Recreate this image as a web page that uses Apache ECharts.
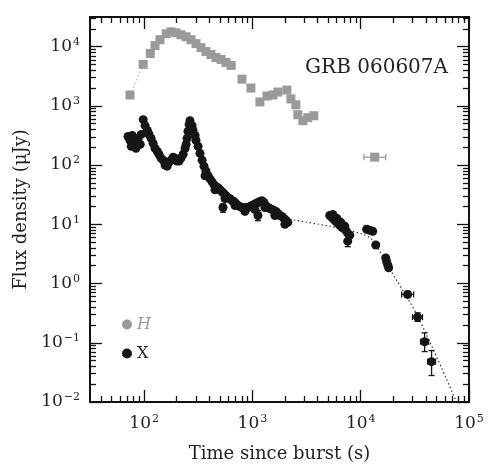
<!DOCTYPE html>
<html><head><meta charset="utf-8">
<script src="https://cdn.jsdelivr.net/npm/echarts@6/dist/echarts.min.js"></script>
<style>html,body{margin:0;padding:0;background:#fff}#c{width:488px;height:468px}</style>
</head><body><div id="c"></div>
<script>
// ---- data (time in s, flux density in microJy) ----
const hTime = [74, 98, 114, 126, 140, 160, 177, 197, 219, 244, 271, 301, 335, 372, 414, 460, 513, 570, 634, 800, 968, 1172, 1360, 1545, 1718, 2080, 2265, 2520, 2625, 2920, 3245, 3690, 13460];
const hFlux = [1525, 5012, 7650, 10400, 13090, 16480, 17780, 17100, 15850, 14680, 13090, 11220, 9620, 8250, 7360, 6560, 6070, 5410, 4820, 2820, 1995, 1166, 1468, 1525, 1710, 1848, 1310, 1040, 708, 562, 631, 681, 136];
const hErrTime = [634, 13460];
const hErrFlux = [4820, 136];
const hErrTimeLo = [590, 10700];
const hErrTimeHi = [690, 17000];
const hRiseTime = [74, 98];
const hRiseFlux = [1525, 5012];

const xTime = [71, 74, 76, 77.5, 81, 84, 88, 92, 94, 98, 102, 107, 111, 116, 121, 126, 132, 137, 143.5, 150, 156, 163, 170, 177, 185, 193, 201, 210, 219, 229, 239, 244, 249, 254, 260, 265, 277, 283, 295, 301, 315, 328, 343, 357, 365, 372, 389, 405, 424, 442, 451, 461, 481, 501, 524, 535, 546, 558, 570, 594, 621, 647, 676, 690, 705, 735, 767, 800, 836, 853, 871, 910, 949, 989, 1033, 1054, 1076, 1125, 1125, 1172, 1225, 1276, 1303, 1330, 1390, 1449, 1514, 1578, 1612, 1648, 1718, 1795, 1871, 1950, 1993, 2037, 2123, 5176, 5404, 5520, 5636, 5888, 6010, 6138, 6412, 6550, 6683, 6966, 7120, 7278, 7586, 7586, 7925, 11350, 12100, 12900, 13770, 17020, 17380, 17740, 18110, 27100, 33500, 38900, 45100];
const xFlux = [304, 261, 207, 316, 233, 192, 282, 224, 329, 585, 464, 383, 329, 282, 233, 192, 171, 152, 131, 121, 100, 96, 112, 121, 136, 131, 117, 117, 131, 152, 192, 224, 282, 369, 482, 562, 464, 383, 316, 261, 207, 158, 121, 96, 66, 79.4, 66, 58.5, 52.1, 46.4, 38.3, 43, 41.4, 38.3, 35.5, 19.2, 32.9, 27.1, 30.4, 28.2, 27.1, 25.1, 24.2, 20.7, 22.4, 20.7, 20.0, 19.2, 18.5, 16.5, 19.2, 19.2, 20.0, 20.7, 21.5, 17.8, 22.4, 23.3, 14.1, 24.2, 25.1, 23.3, 19.2, 20.7, 19.2, 18.5, 17.8, 17.1, 14.1, 16.5, 15.2, 14.1, 13.6, 12.6, 10.0, 11.7, 10.8, 14.1, 13.1, 14.7, 12.1, 11.2, 12.6, 10.4, 9.62, 10.8, 8.91, 8.58, 9.27, 7.94, 7.08, 5.2, 6.56, 8.25, 7.94, 7.64, 4.47, 2.71, 2.33, 2.07, 1.85, 0.656, 0.271, 0.104, 0.048];
const xErrTime = [535, 1125, 7586, 27100, 33500, 38900, 45100];
const xErrFlux = [19.2, 14.1, 5.2, 0.656, 0.271, 0.104, 0.048];
const xErrTimeLo = [535, 1125, 7586, 23900, 30100, 35700, 41500];
const xErrTimeHi = [535, 1125, 7586, 30800, 37200, 42400, 49100];
const xErrFluxLo = [16, 11.5, 4.2, 0.58, 0.23, 0.071, 0.028];
const xErrFluxHi = [22, 17, 6.5, 0.74, 0.32, 0.147, 0.074];

const modelTime = [2217, 5176, 10430, 12630, 14960, 18500, 33500, 76700];
const modelFlux = [12.1, 9.27, 6.81, 5.62, 3.55, 1.78, 0.282, 0.01];

const xMajor = [2, 3, 4, 5];          // decades 10^2..10^5
const yMajor = [-2, -1, 0, 1, 2, 3, 4]; // decades 10^-2..10^4
const xRange = [1.5, 5];
const yRange = [-2, 4.5];

// ---- build ----
const L = Math.log10;
function minors(lo, hi) {
  const out = [];
  for (let n = Math.floor(lo) - 1; n <= Math.ceil(hi); n++) {
    for (let k = 2; k <= 9; k++) {
      const v = n + L(k);
      if (v > lo + 1e-6 && v < hi - 1e-6) out.push(v);
    }
  }
  return out;
}
const xMinor = minors(xRange[0], xRange[1]);
const yMinor = minors(yRange[0], yRange[1]);
const pair = (ts, fs) => ts.map((t, i) => [L(t), L(fs[i])]);

const FONT = 'DejaVu Serif';
const TXT = '#222';
const sup = v => '{b|10}{s|' + String(v).replace('-', '\u2212') + '}';
const rich = { b: { fontSize: 17, fontFamily: FONT, color: TXT }, s: { fontSize: 11, fontFamily: FONT, color: TXT, verticalAlign: 'top', padding: [0, 0, 9, 1] } };

function xAx(pos, vals, len, labels, line, extra) {
  return Object.assign({
    type: 'value', position: pos, min: xRange[0], max: xRange[1],
    axisLine: { show: line, onZero: false, lineStyle: { color: '#111', width: 2 } },
    axisTick: { show: true, inside: true, length: len, customValues: vals, lineStyle: { color: '#111', width: 1.3 } },
    axisLabel: { show: labels, customValues: vals, formatter: sup, rich: rich, margin: 12 },
    splitLine: { show: false }
  }, extra || {});
}
function yAx(pos, vals, len, labels, line, extra) {
  return Object.assign({
    type: 'value', position: pos, min: yRange[0], max: yRange[1],
    axisLine: { show: line, onZero: false, lineStyle: { color: '#111', width: 2 } },
    axisTick: { show: true, inside: true, length: len, customValues: vals, lineStyle: { color: '#111', width: 1.3 } },
    axisLabel: { show: labels, customValues: vals, formatter: sup, rich: rich, margin: 10 },
    splitLine: { show: false }
  }, extra || {});
}

function errItem(color) {
  return function (params, api) {
    const x = api.value(0), y = api.value(1);
    const xl = api.value(2), xh = api.value(3), yl = api.value(4), yh = api.value(5);
    const cap = 3, ch = [];
    const st = { stroke: color, lineWidth: 1.3 };
    if (xh - xl > 1e-9) {
      const a = api.coord([xl, y]), b = api.coord([xh, y]);
      ch.push({ type: 'line', shape: { x1: a[0], y1: a[1], x2: b[0], y2: b[1] }, style: st });
      ch.push({ type: 'line', shape: { x1: a[0], y1: a[1] - cap, x2: a[0], y2: a[1] + cap }, style: st });
      ch.push({ type: 'line', shape: { x1: b[0], y1: b[1] - cap, x2: b[0], y2: b[1] + cap }, style: st });
    }
    if (yh - yl > 1e-9) {
      const a = api.coord([x, yl]), b = api.coord([x, yh]);
      ch.push({ type: 'line', shape: { x1: a[0], y1: a[1], x2: b[0], y2: b[1] }, style: st });
      ch.push({ type: 'line', shape: { x1: a[0] - cap, y1: a[1], x2: a[0] + cap, y2: a[1] }, style: st });
      ch.push({ type: 'line', shape: { x1: b[0] - cap, y1: b[1], x2: b[0] + cap, y2: b[1] }, style: st });
    }
    return { type: 'group', children: ch };
  };
}

const hErrData = hErrTime.map((t, i) => [L(t), L(hErrFlux[i]), L(hErrTimeLo[i]), L(hErrTimeHi[i]), L(hErrFlux[i]), L(hErrFlux[i])]);
const xErrData = xErrTime.map((t, i) => [L(t), L(xErrFlux[i]), L(xErrTimeLo[i]), L(xErrTimeHi[i]), L(xErrFluxLo[i]), L(xErrFluxHi[i])]);

const GRAY = '#9a9a9a', BLACK = '#161616';

const option = {
  animation: false,
  backgroundColor: '#fff',
  grid: { left: 90, right: 19, top: 17, bottom: 61 },
  title: { text: 'GRB 060607A', right: 35, top: 53, textStyle: { fontFamily: FONT, fontWeight: 'normal', fontSize: 20, color: TXT } },
  legend: {
    orient: 'vertical', left: 117, top: 311, itemGap: 12, itemWidth: 10, itemHeight: 10,
    data: [
      { name: 'H', icon: 'circle', textStyle: { color: GRAY, fontStyle: 'italic', fontFamily: FONT, fontSize: 16 } },
      { name: 'X', icon: 'circle', textStyle: { color: TXT, fontFamily: FONT, fontSize: 16 } }
    ],
    textStyle: { fontFamily: FONT, fontSize: 16, lineHeight: 17 }
  },
  xAxis: [
    xAx('bottom', xMajor, 12, true, true, { name: 'Time since burst (s)', nameLocation: 'middle', nameGap: 43, nameTextStyle: { fontFamily: FONT, fontSize: 18, color: TXT } }),
    xAx('bottom', xMinor, 6, false, false),
    xAx('top', xMajor, 12, false, true),
    xAx('top', xMinor, 6, false, false)
  ],
  yAxis: [
    yAx('left', yMajor, 12, true, true, { name: 'Flux density (\u03bcJy)', nameLocation: 'middle', nameGap: 58, nameTextStyle: { fontFamily: FONT, fontSize: 18, color: TXT } }),
    yAx('left', yMinor, 6, false, false),
    yAx('right', yMajor, 12, false, true),
    yAx('right', yMinor, 6, false, false)
  ],
  series: [
    { name: 'model', type: 'line', data: pair(modelTime, modelFlux), showSymbol: false, symbol: 'none', smooth: 0.3, lineStyle: { color: '#333', width: 1.2, type: [1.5, 2.5] }, z: 1, silent: true },
    { name: 'Hrise', type: 'line', data: pair(hRiseTime, hRiseFlux), showSymbol: false, symbol: 'none', lineStyle: { color: '#bbb', width: 1.2, type: [1.5, 2.5] }, z: 1, silent: true },
    { name: 'Herr', type: 'custom', renderItem: errItem(GRAY), data: hErrData, encode: { x: [0, 2, 3], y: [1, 4, 5] }, z: 2 },
    { name: 'H', type: 'scatter', data: pair(hTime, hFlux), symbol: 'rect', symbolSize: 9, itemStyle: { color: GRAY, opacity: 1 }, z: 3 },
    { name: 'Xerr', type: 'custom', renderItem: errItem(BLACK), data: xErrData, encode: { x: [0, 2, 3], y: [1, 4, 5] }, z: 4 },
    { name: 'X', type: 'scatter', data: pair(xTime, xFlux), symbol: 'circle', symbolSize: 9, itemStyle: { color: BLACK, opacity: 1 }, z: 5 }
  ]
};
option.series.forEach(s => { s.xAxisIndex = 0; s.yAxisIndex = 0; });
const chart = echarts.init(document.getElementById('c'), null, { renderer: 'canvas' });
chart.setOption(option);
</script></body></html>
